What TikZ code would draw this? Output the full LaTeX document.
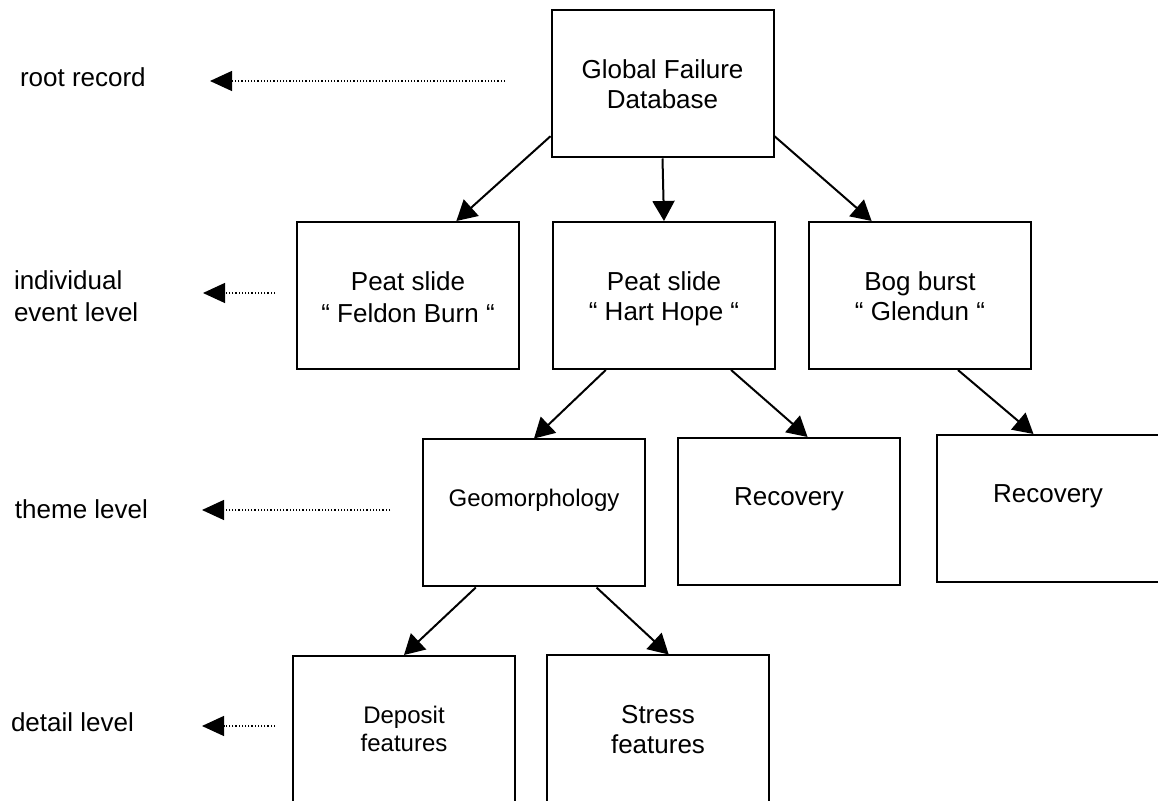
\documentclass[tikz,border=0pt]{standalone}
\usepackage{fontspec}
\setmainfont{Liberation Sans}
\usetikzlibrary{arrows.meta}

\begin{document}
\begin{tikzpicture}[x=0.5pt,y=-0.5pt,->,>={Triangle[length=10pt,width=11pt]},line width=1pt,
    box/.style={rectangle, draw, inner sep=0pt,
          minimum width = 111pt,
          minimum height = 73.5pt},
    boxtext/.style={anchor=north, align=center, yshift=-21.5pt, font=\fontsize{13}{15}\selectfont},
    leveltext/.style={anchor=west, align=left, inner sep=0pt, font=\fontsize{13}{16}\selectfont},
    levelarrow/.style={densely dotted, line width=0.6pt, >={Triangle[length=11pt,width=10pt]}}]

    \useasboundingbox (0,0) rectangle (1158,801);
    \clip (0,0) rectangle (1158,801);

    % root
    \node[box] (gfd) at (662.5,84) {};
    \node[boxtext] at (gfd.north) {Global Failure\\Database};

    % events
    \node[box] (feldon) at (408,295.5) {};
    \node[boxtext, font=\fontsize{13}{16}\selectfont] at (feldon.north) {Peat slide\\`` Feldon Burn ``};

    \node[box] (harthope) at (664,295.5) {};
    \node[boxtext] at (harthope.north) {Peat slide\\`` Hart Hope ``};

    \node[box] (glendun) at (920,295.5) {};
    \node[boxtext] at (glendun.north) {Bog burst\\`` Glendun ``};

    % themes
    \node[box] (geo) at (534,513) {};
    \node[boxtext, font=\fontsize{12}{15}\selectfont] at (geo.north) {Geomorphology};

    \node[box] (recov) at (789,511.5) {};
    \node[boxtext] at (recov.north) {Recovery};

    \node[box] (recov2) at (1048,508.5) {};
    \node[boxtext] at (recov2.north) {Recovery};

    % details
    \node[box, minimum height = 75pt] (deposit) at (404,731) {};
    \node[boxtext, font=\fontsize{12}{14}\selectfont] at (deposit.north) {Deposit\\features};

    \node[box, minimum height = 75pt] (stress) at (658,730.5) {};
    \node[boxtext] at (stress.north) {Stress\\features};

    % level labels
    \node[leveltext] (rootlbl) at (19,77) {root record};
    \node[leveltext] (eventlbl) at (13,296) {individual\\event level};
    \node[leveltext] (themelbl) at (14,509) {theme level};
    \node[leveltext] (detaillbl) at (10,722) {detail level};

    \coordinate (rootfrom) at (505,81);
    \coordinate (roottip) at (210,81);
    \coordinate (eventfrom) at (275,293);
    \coordinate (eventtip) at (203,293);
    \coordinate (themefrom) at (390,510);
    \coordinate (themetip) at (202,510);
    \coordinate (detailfrom) at (275,726);
    \coordinate (detailtip) at (202,726);

    \draw[levelarrow] (rootfrom) -- (roottip);
    \draw[levelarrow] (eventfrom) -- (eventtip);
    \draw[levelarrow] (themefrom) -- (themetip);
    \draw[levelarrow] (detailfrom) -- (detailtip);

    \path
    %tree
    (gfd.205) edge (feldon.57)
    (gfd.south) edge (harthope.north)
    (gfd.335) edge (glendun.123)
    (harthope.232) edge (geo.north)
    (harthope.312) edge (recov.76)
    (glendun.297) edge (recov2.101)
    (geo.232) edge (deposit.north)
    (geo.310) edge (stress.82);

\end{tikzpicture}
\end{document}
